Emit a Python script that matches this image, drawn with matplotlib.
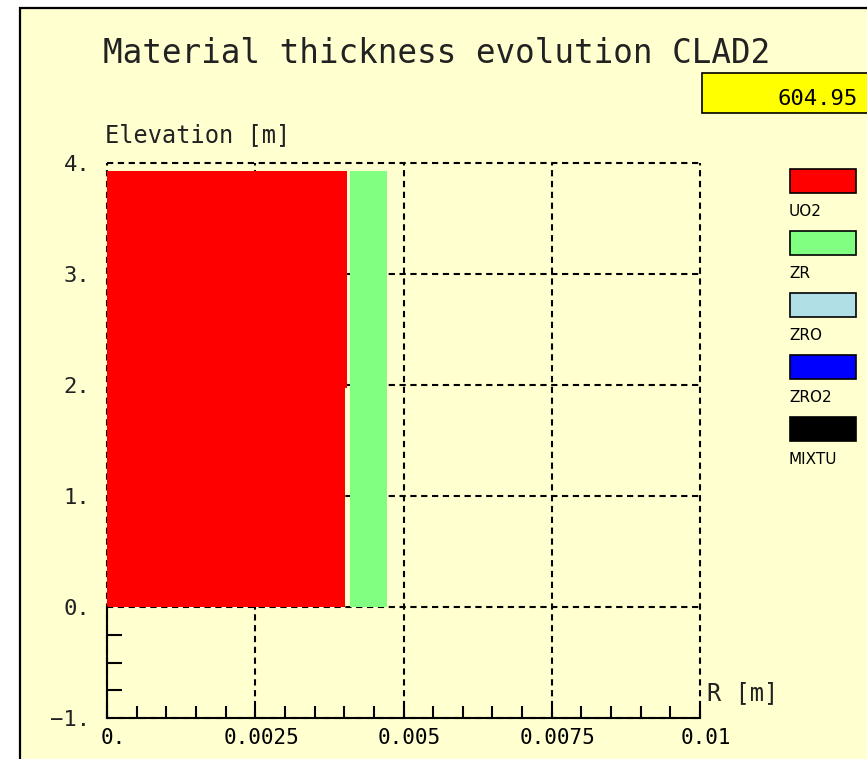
import numpy as np
import matplotlib.pyplot as plt
from matplotlib.patches import Rectangle
from matplotlib.ticker import FixedLocator
from matplotlib.transforms import ScaledTranslation

# --- data ---------------------------------------------------------------
title = "Material thickness evolution CLAD2"
time_value = 604.95

materials = ["UO2", "ZR", "ZRO", "ZRO2", "MIXTU"]
material_colors = ["#ff0000", "#80ff80", "#b0e0e6", "#0000ff", "#000000"]

# axial meshes of the rod (elevation, m)
z_bottom = np.array([0.0, 1.97])
z_top = np.array([1.97, 3.93])

# radial extent of each layer per axial mesh (m)
uo2_r_in = np.array([0.0, 0.0])
uo2_r_out = np.array([0.00401, 0.00405])
zr_r_in = np.array([0.0041, 0.0041])
zr_r_out = np.array([0.00472, 0.00472])

x_ticks = [0.0, 0.0025, 0.005, 0.0075, 0.01]
x_tick_labels = ["0.", "0.0025", "0.005", "0.0075", "0.01"]
y_ticks = [-1, 0, 1, 2, 3, 4]
y_tick_labels = ["\u22121.", "0.", "1.", "2.", "3.", "4."]

# --- style --------------------------------------------------------------
BG = "#ffffd0"
MONO = "DejaVu Sans Mono"
W, H = 867, 759


def fx(px):
    return px / W


def fy(py):
    return 1 - py / H


fig = plt.figure(figsize=(W / 100, H / 100), dpi=100, facecolor="white")

# panel background with its frame
fig.patches.append(Rectangle((fx(20), -0.05), 1.1, fy(8) + 0.05,
                             transform=fig.transFigure, facecolor=BG,
                             edgecolor="black", linewidth=1.6, zorder=-10))

ax = fig.add_axes([fx(107), fy(718), fx(700) - fx(107), fy(163) - fy(718)])
ax.set_zorder(1)
ax.set_facecolor("none")
ax.set_xlim(0, 0.01)
ax.set_ylim(-1, 4)

# material layers
ax.barh(z_bottom, uo2_r_out - uo2_r_in, left=uo2_r_in, height=z_top - z_bottom,
        align="edge", color=material_colors[0], linewidth=0, zorder=2)
ax.barh(z_bottom, zr_r_out - zr_r_in, left=zr_r_in, height=z_top - z_bottom,
        align="edge", color=material_colors[1], linewidth=0, zorder=2)

# axes, ticks and dashed grid
for side in ["top", "right"]:
    ax.spines[side].set_visible(False)
ax.spines["left"].set_bounds(-1, 0)
ax.spines["left"].set_linewidth(1.5)
ax.spines["bottom"].set_linewidth(1.5)

ax.set_axisbelow(True)
ax.set_xticks(x_ticks)
ax.set_xticklabels(x_tick_labels, fontfamily=MONO, fontsize=15, color="#222222")
ax.set_yticks(y_ticks)
ax.set_yticklabels(y_tick_labels, fontfamily=MONO, fontsize=16, color="#222222")
ax.xaxis.set_minor_locator(FixedLocator(np.arange(0.0005, 0.01, 0.0005)))
ax.yaxis.set_minor_locator(FixedLocator([-0.75, -0.5, -0.25]))
ax.tick_params(axis="x", which="both", direction="in", length=9, width=1.5,
               pad=7, colors="black")
ax.tick_params(axis="y", which="major", direction="in", length=0, pad=12)
ax.tick_params(axis="y", which="minor", direction="in", length=11, width=1.5)
ax.grid(True, which="major", color="black", linewidth=1.5,
        linestyle=(0, (3, 2.2)), clip_on=False)

# x labels sit a little to the right of their ticks
shift = ScaledTranslation(6 / 100, 0, fig.dpi_scale_trans)
for lab in ax.get_xticklabels():
    lab.set_transform(lab.get_transform() + shift)

# text
fig.text(fx(103), fy(63), title, fontfamily=MONO, fontsize=23.5,
         va="baseline", ha="left", color="#222222")
fig.text(fx(105), fy(142), "Elevation [m]", fontfamily=MONO, fontsize=17,
         va="baseline", ha="left", color="#222222")
fig.text(fx(707), fy(700), "R [m]", fontfamily=MONO, fontsize=17,
         va="baseline", ha="left", color="#222222")

# time box
fig.patches.append(Rectangle((fx(702), fy(113)), 0.3, fy(73) - fy(113),
                             transform=fig.transFigure, facecolor="#ffff00",
                             edgecolor="black", linewidth=1.2, zorder=1))
fig.text(fx(858), fy(105), f"{time_value:.2f}", fontfamily=MONO, fontsize=16,
         va="baseline", ha="right", zorder=3)

# material legend
for i, (name, col) in enumerate(zip(materials, material_colors)):
    top = 169 + i * 62
    fig.patches.append(Rectangle((fx(790), fy(top + 24)), fx(856) - fx(790),
                                 fy(top) - fy(top + 24),
                                 transform=fig.transFigure, facecolor=col,
                                 edgecolor="black", linewidth=1.2, zorder=1))
    fig.text(fx(789), fy(top + 35), name, fontfamily="DejaVu Sans",
             fontsize=11, va="top", ha="left")

fig.savefig("out.png", dpi=100, facecolor="white")
